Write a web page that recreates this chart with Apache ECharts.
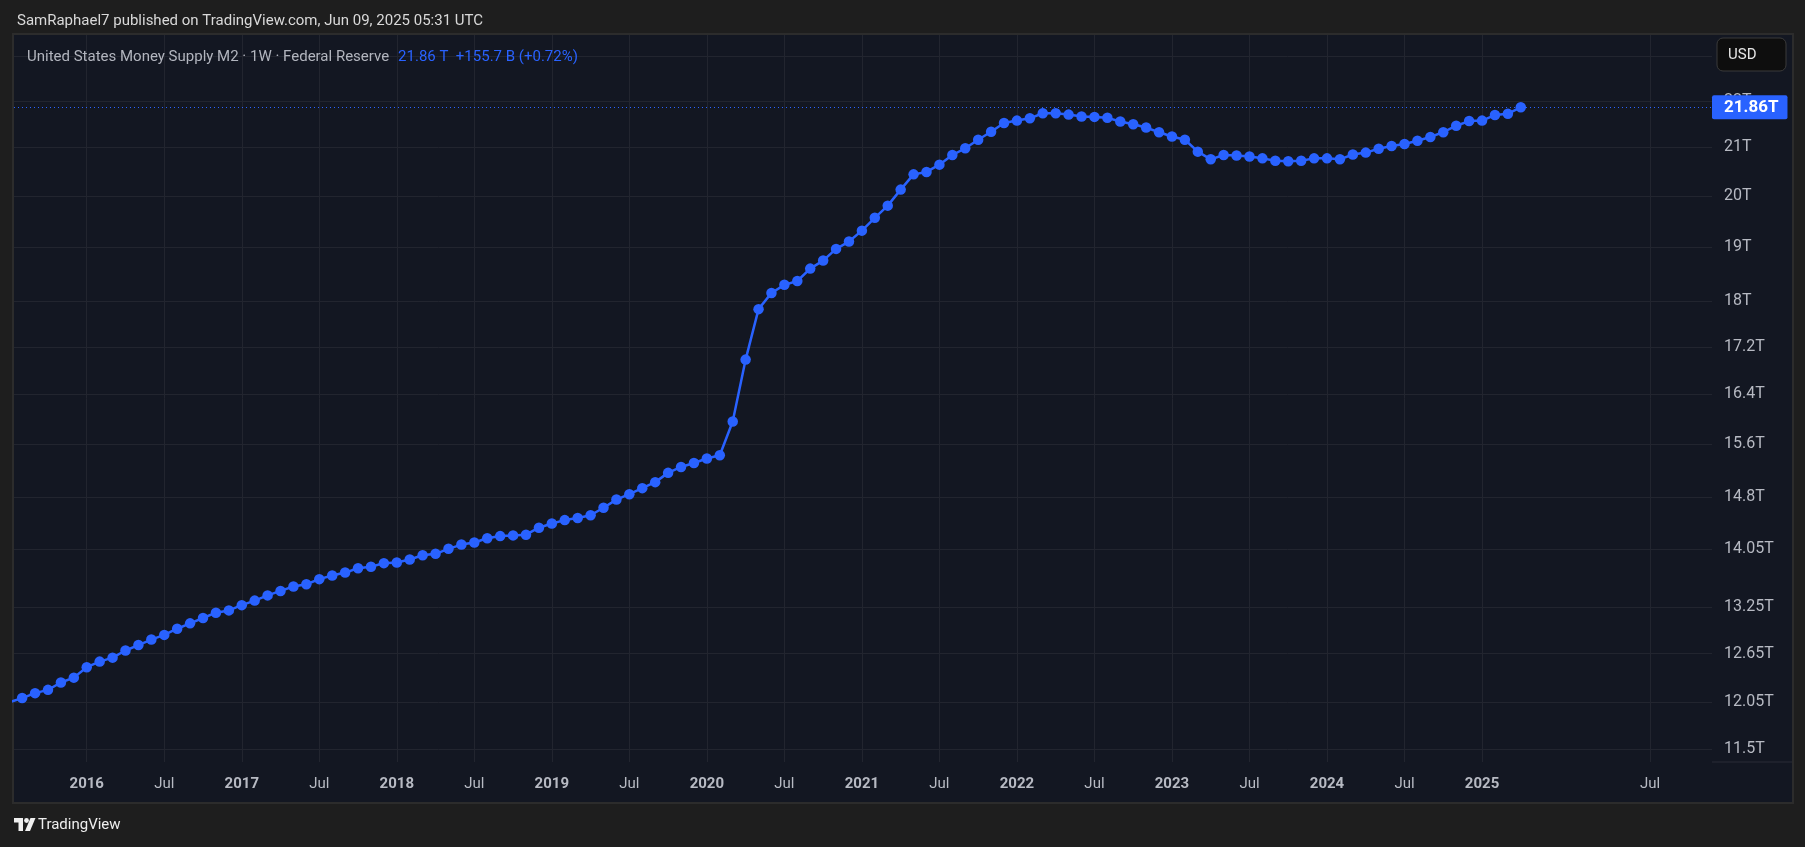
<!DOCTYPE html>
<html><head><meta charset="utf-8">
<script src="https://cdn.jsdelivr.net/npm/echarts@6/dist/echarts.min.js"></script>
<style>html,body{margin:0;padding:0;background:#1e1e1e;}#c{width:1805px;height:847px;}</style>
</head><body><div id="c"></div>
<script>
// Monthly observations (first-of-month), Jul 2015 .. Apr 2025
const months = [
  '2015-07','2015-08','2015-09','2015-10','2015-11','2015-12',
  '2016-01','2016-02','2016-03','2016-04','2016-05','2016-06','2016-07','2016-08','2016-09','2016-10','2016-11','2016-12',
  '2017-01','2017-02','2017-03','2017-04','2017-05','2017-06','2017-07','2017-08','2017-09','2017-10','2017-11','2017-12',
  '2018-01','2018-02','2018-03','2018-04','2018-05','2018-06','2018-07','2018-08','2018-09','2018-10','2018-11','2018-12',
  '2019-01','2019-02','2019-03','2019-04','2019-05','2019-06','2019-07','2019-08','2019-09','2019-10','2019-11','2019-12',
  '2020-01','2020-02','2020-03','2020-04','2020-05','2020-06','2020-07','2020-08','2020-09','2020-10','2020-11','2020-12',
  '2021-01','2021-02','2021-03','2021-04','2021-05','2021-06','2021-07','2021-08','2021-09','2021-10','2021-11','2021-12',
  '2022-01','2022-02','2022-03','2022-04','2022-05','2022-06','2022-07','2022-08','2022-09','2022-10','2022-11','2022-12',
  '2023-01','2023-02','2023-03','2023-04','2023-05','2023-06','2023-07','2023-08','2023-09','2023-10','2023-11','2023-12',
  '2024-01','2024-02','2024-03','2024-04','2024-05','2024-06','2024-07','2024-08','2024-09','2024-10','2024-11','2024-12',
  '2025-01','2025-02','2025-03','2025-04'
];
// Future (empty) weekly bars on the time scale
const futureWeeks = ['2025-05-05','2025-05-12','2025-05-19','2025-05-26','2025-06-02','2025-06-09','2025-06-16',
  '2025-06-23','2025-06-30','2025-07-07','2025-07-14','2025-07-21','2025-07-28','2025-08-04','2025-08-11'];
// US M2 money supply, trillions USD
const m2 = [
  12.05,12.10,12.16,12.20,12.29,12.35,
  12.48,12.55,12.60,12.69,12.76,12.83,12.89,12.97,13.04,13.11,13.18,13.21,
  13.28,13.34,13.41,13.47,13.53,13.56,13.63,13.68,13.72,13.78,13.80,13.85,
  13.86,13.90,13.96,13.98,14.05,14.11,14.14,14.20,14.23,14.24,14.25,14.35,
  14.41,14.46,14.49,14.53,14.64,14.76,14.84,14.93,15.02,15.16,15.25,15.31,
  15.38,15.43,15.96,16.98,17.86,18.15,18.30,18.37,18.60,18.75,18.97,19.11,
  19.32,19.57,19.81,20.13,20.44,20.49,20.64,20.84,20.98,21.16,21.33,21.52,
  21.57,21.62,21.73,21.73,21.70,21.66,21.65,21.63,21.55,21.49,21.42,21.32,
  21.23,21.16,20.91,20.75,20.84,20.83,20.81,20.77,20.72,20.71,20.72,20.77,
  20.77,20.75,20.85,20.89,20.97,21.03,21.07,21.14,21.22,21.32,21.46,21.56,
  21.57,21.69,21.72,21.86
];
const yTickValues = [11.5, 12.05, 12.65, 13.25, 14.05, 14.8, 15.6, 16.4, 17.2, 18, 19, 20, 21, 22, 23];
const yTickLabels = ['11.5T','12.05T','12.65T','13.25T','14.05T','14.8T','15.6T','16.4T','17.2T','18T','19T','20T','21T','22T','23T'];
const headerText = 'SamRaphael7 published on TradingView.com, Jun 09, 2025 05:31 UTC';
const legendName = 'United States Money Supply M2 · 1W · Federal Reserve';
const legendValue = '21.86 T  +155.7 B (+0.72%)';
const lastLabel = '21.86T';

const categories = months.concat(futureWeeks);
const xTickIdx = [], xTickText = {};
categories.forEach((c, i) => {
  const mo = c.slice(5, 7);
  const prev = i > 0 ? categories[i - 1].slice(5, 7) : null;
  if (mo !== prev && (mo === '01' || mo === '07')) {
    xTickIdx.push(i);
    xTickText[i] = mo === '01' ? '{y|' + c.slice(0, 4) + '}' : '{m|Jul}';
  }
});
const yLabelMap = {};
yTickValues.forEach((v, i) => { yLabelMap[v] = yTickLabels[i]; });

const FONT = 'Roboto';
const chart = echarts.init(document.getElementById('c'), null, {renderer: 'canvas'});
chart.setOption({
  backgroundColor: '#1e1e1e',
  animation: false,
  textStyle: {fontFamily: FONT},
  title: [
    {text: headerText, left: 12, top: 9,
     textStyle: {color: '#d9d9d9', fontSize: 15, fontWeight: 'normal', fontFamily: FONT}},
    {text: '{a|' + legendName + '}  {b|' + legendValue + '}', left: 22, top: 43,
     textStyle: {fontFamily: FONT, fontWeight: 'normal', rich: {
       a: {color: '#b2b5be', fontSize: 15, fontWeight: 'normal', fontFamily: FONT},
       b: {color: '#2962ff', fontSize: 15, fontWeight: 'normal', fontFamily: FONT}}}}
  ],
  grid: {left: 14, right: 93, top: 35, bottom: 85},
  xAxis: {
    type: 'value', min: 0.37, max: 131.8,
    axisLine: {show: false},
    axisTick: {show: false, customValues: xTickIdx},
    splitLine: {show: true, lineStyle: {color: '#22252f', width: 1}},
    axisLabel: {
      customValues: xTickIdx, margin: 15,
      formatter: v => xTickText[Math.round(v)] || '',
      rich: {
        y: {color: '#b7bac3', fontSize: 15, fontWeight: 'bold', fontFamily: FONT},
        m: {color: '#b7bac3', fontSize: 15, fontFamily: FONT}
      }
    }
  },
  yAxis: {
    type: 'log', position: 'right', min: 11.35, max: 23.5,
    axisLine: {show: false},
    axisTick: {show: false, customValues: yTickValues},
    splitLine: {show: true, lineStyle: {color: '#22252f', width: 1}},
    axisLabel: {
      customValues: yTickValues, margin: 12, color: '#b7bac3', fontSize: 16, fontFamily: FONT,
      formatter: v => yLabelMap[v] || (Math.round(v * 100) / 100) + 'T'
    }
  },
  series: [{
    type: 'line',
    data: m2.map((v, i) => [i, v]),
    symbol: 'circle', symbolSize: 10.5, showAllSymbol: true,
    lineStyle: {color: '#2962ff', width: 2.5},
    itemStyle: {color: '#2962ff'},
    clip: true,
    markLine: {
      silent: true, symbol: ['none', 'none'], animation: false,
      data: [{yAxis: m2[m2.length - 1]}],
      lineStyle: {color: '#2962ff', type: [1, 3], width: 1},
      label: {
        position: 'end', distance: 0, formatter: lastLabel,
        backgroundColor: '#2962ff', color: '#ffffff', fontSize: 17, fontWeight: 'bold', fontFamily: FONT,
        padding: [4, 9, 3, 12], borderRadius: 2
      },
      emphasis: {disabled: true}
    }
  }],
  graphic: [
    {type: 'rect', z: -10, shape: {x: 13, y: 34, width: 1780, height: 769},
     style: {fill: '#131722', stroke: '#2c2c2c', lineWidth: 2}},
    {type: 'line', z: 5, shape: {x1: 1712, y1: 762, x2: 1792, y2: 762},
     style: {stroke: '#2a2d36', lineWidth: 1}},
    {type: 'group', z: 100, children: [
      {type: 'rect', z: 100, shape: {x: 1717, y: 38, width: 69, height: 33, r: 6},
       style: {fill: '#0e0e0e', stroke: '#3a3a3a', lineWidth: 1}},
      {type: 'text', z: 101, x: 1728, y: 55,
       style: {text: 'USD', fill: '#e6e6e6', fontSize: 15, fontFamily: FONT, verticalAlign: 'middle'}}
    ]},
    {type: 'group', z: 100, children: [
      {type: 'polygon', shape: {points: [[14, 818], [23, 818], [23, 831], [18.5, 831], [18.5, 822.5], [14, 822.5]]},
       style: {fill: '#f0f0f0'}},
      {type: 'circle', shape: {cx: 26.5, cy: 820.5, r: 2.4}, style: {fill: '#f0f0f0'}},
      {type: 'polygon', shape: {points: [[30.5, 818], [35.5, 818], [30, 831], [25, 831]]},
       style: {fill: '#f0f0f0'}},
      {type: 'text', x: 38, y: 825,
       style: {text: 'TradingView', fill: '#eeeeee', fontSize: 15, fontFamily: FONT, verticalAlign: 'middle'}}
    ]}
  ]
});
</script>
</body></html>
